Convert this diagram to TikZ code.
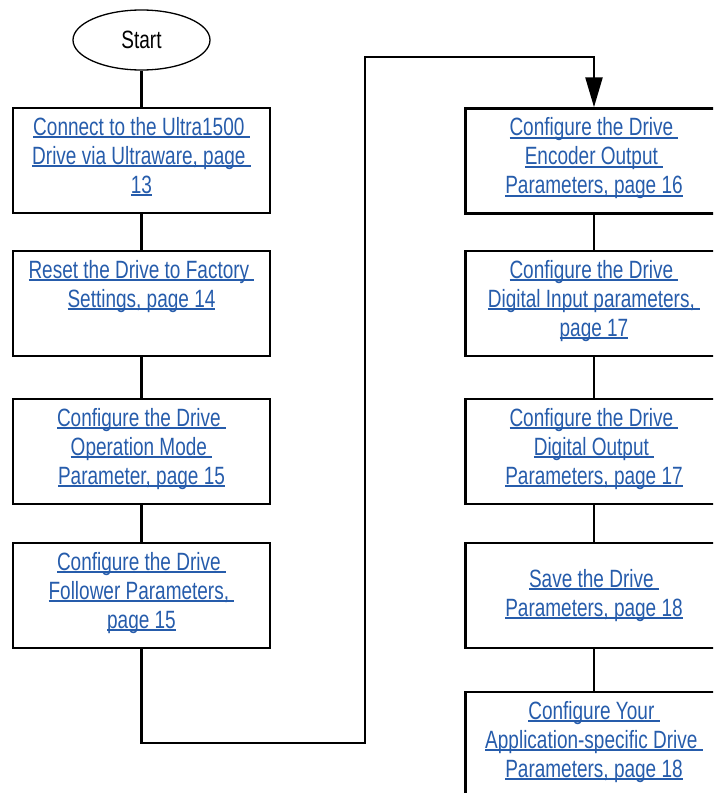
\documentclass[tikz,border=0pt]{standalone}
\usepackage{fontspec}
\usetikzlibrary{shapes.geometric,arrows.meta}
\newfontfamily\condfont[FakeStretch=0.76]{Liberation Sans}
\definecolor{linkblue}{RGB}{38,92,171}
% underlined link text, rule just under the baseline
\newcommand\lnk[1]{\setbox0=\hbox{#1}\rlap{\rule[-3pt]{\wd0}{1.8pt}}\box0}

\tikzset{
  stepbox/.style={draw, line width=2.5pt, minimum width=257pt, minimum height=105pt, inner sep=0pt},
  linktext/.style={anchor=north, yshift=-8pt, inner sep=0pt, align=center, text=linkblue,
    font=\condfont\fontsize{25}{29}\selectfont},
  flow/.style={line width=2.5pt}
}

\begin{document}
\begin{tikzpicture}[x=1pt, y=-1pt]
      \useasboundingbox (0,0) rectangle (713,793);
      \clip (0,0) rectangle (713,793);

      \node [draw, ellipse, line width=1.3pt, minimum width=137pt, minimum height=60pt,
             font=\condfont\fontsize{25}{29}\selectfont] (start) at (141.5,40) {Start};

      % left column
      \node [stepbox] (b1) at (141.5,160.5) {};
      \node [stepbox] (b2) at (141.5,303.5) {};
      \node [stepbox] (b3) at (141.5,451.5) {};
      \node [stepbox] (b4) at (141.5,595.5) {};

      % right column
      \node [stepbox] (r1) at (594,161) {};
      \node [stepbox] (r2) at (594,303.5) {};
      \node [stepbox] (r3) at (594,451.5) {};
      \node [stepbox] (r4) at (594,595.5) {};
      \node [stepbox] (r5) at (594,744.5) {};

      \node [linktext] (t1) at (b1.north) {\strut\lnk{Connect to the Ultra1500 }\\\lnk{Drive via Ultraware, page }\\\lnk{13}};
      \node [linktext] (t2) at (b2.north) {\strut\lnk{Reset the Drive to Factory }\\\lnk{Settings, page 14}};
      \node [linktext] (t3) at (b3.north) {\strut\lnk{Configure the Drive }\\\lnk{Operation Mode }\\\lnk{Parameter, page 15}};
      \node [linktext] (t4) at (b4.north) {\strut\lnk{Configure the Drive }\\\lnk{Follower Parameters, }\\\lnk{page 15}};

      \node [linktext] (u1) at (r1.north) {\strut\lnk{Configure the Drive }\\\lnk{Encoder Output }\\\lnk{Parameters, page 16}};
      \node [linktext] (u2) at (r2.north) {\strut\lnk{Configure the Drive }\\\lnk{Digital Input parameters, }\\\lnk{page 17}};
      \node [linktext] (u3) at (r3.north) {\strut\lnk{Configure the Drive }\\\lnk{Digital Output }\\\lnk{Parameters, page 17}};
      \node [linktext, yshift=-17pt] (u4) at (r4.north) {\strut\lnk{Save the Drive }\\\lnk{Parameters, page 18}};
      \node [linktext] (u5) at (r5.north) {\strut\lnk{Configure Your }\\\lnk{Application-specific Drive }\\\lnk{Parameters, page 18}};

      \draw [flow] (start) -- (b1);
      \draw [flow] (b1) -- (b2);
      \draw [flow] (b2) -- (b3);
      \draw [flow] (b3) -- (b4);

      \coordinate (low) at (365,743);
      \coordinate (high) at (365,57);
      \draw [flow, -{Triangle[width=17pt,length=30pt]}] (b4.south) |- (low) -- (high) -| (r1.north);

      \draw [flow] (r1) -- (r2);
      \draw [flow] (r2) -- (r3);
      \draw [flow] (r3) -- (r4);
      \draw [flow] (r4) -- (r5);
\end{tikzpicture}
\end{document}
